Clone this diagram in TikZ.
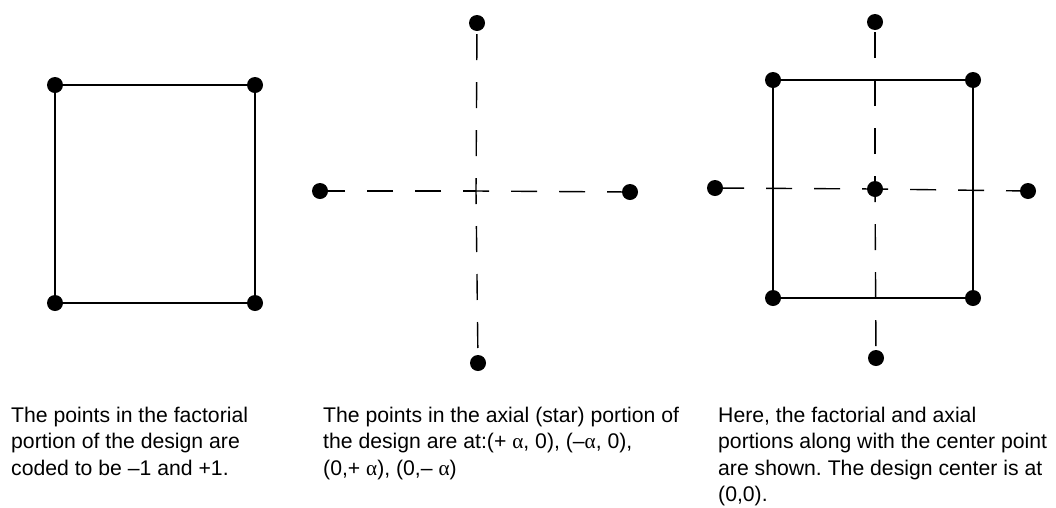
\documentclass[tikz,border=0pt]{standalone}
\usepackage{fontspec}
\setmainfont{Liberation Sans}
\newfontfamily\alphafont{Liberation Serif}
\usetikzlibrary{positioning}
\newcommand{\alp}{{\alphafont α}}

\begin{document}
\frenchspacing
\begin{tikzpicture}[
    x=1pt,y=-1pt,
    dot/.style={circle,fill=black,inner sep=0pt,minimum size=16pt},
    edge/.style={line width=1.8pt},
    axis/.style={line width=1.4pt,dash pattern=on 26pt off 22pt,dash phase=13pt},
    caption/.style={anchor=north west,align=left,inner sep=0pt,
      font=\fontsize{21.2}{26.5}\selectfont}
  ]
  \useasboundingbox (0,0) rectangle (1056,507);

  % factorial portion
  \node[dot] (f1) at (55,85) {};
  \node[dot] (f2) at (255,85) {};
  \node[dot] (f3) at (55,303) {};
  \node[dot] (f4) at (255,303) {};
  \draw[edge] (f1) -- (f2) -- (f4) -- (f3) -- (f1);

  % axial (star) portion
  \coordinate (c2) at (476,191);
  \node[dot] (a2t) at (477,23) {};
  \node[dot] (a2b) at (478,363) {};
  \node[dot] (a2l) at (320,191) {};
  \node[dot] (a2r) at (630,192) {};
  \foreach \p in {a2t,a2b,a2l,a2r}
    \draw[axis] (c2) -- (\p);

  % factorial + axial + center
  \node[dot] (s1) at (773,80) {};
  \node[dot] (s2) at (973,80) {};
  \node[dot] (s3) at (773,298) {};
  \node[dot] (s4) at (973,298) {};
  \draw[edge] (s1) -- (s2) -- (s4) -- (s3) -- (s1);
  \node[dot] (c3) at (875,189) {};
  \node[dot] (a3t) at (875,22) {};
  \node[dot] (a3b) at (876,358) {};
  \node[dot] (a3l) at (715,188) {};
  \node[dot] (a3r) at (1028,191) {};
  \foreach \p in {a3t,a3b,a3l,a3r}
    \draw[axis] (c3.center) -- (\p);

  % captions
  \node[caption] (cap1) at (11,406.5)
    {The points in the factorial\\portion of the design are\\coded to be –1 and +1.};
  \node[caption] (cap2) at (323,406.5)
    {The points in the axial (star) portion of\\the design are at:(+ \alp, 0), (–\alp, 0),\\(0,+ \alp), (0,– \alp)};
  \node[caption] (cap3) at (718,406.5)
    {Here, the factorial and axial\\portions along with the center point\\are shown. The design center is at\\(0,0).};
\end{tikzpicture}
\end{document}
